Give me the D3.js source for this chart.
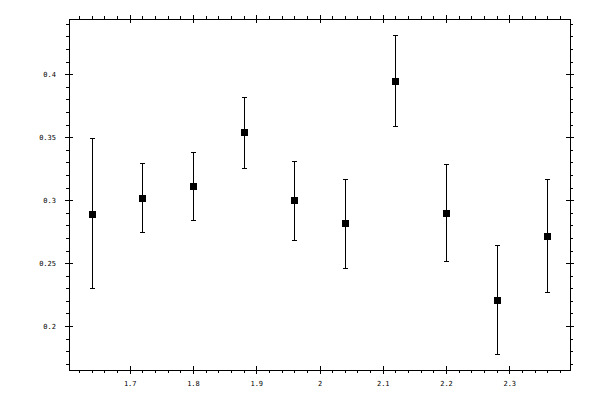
<!DOCTYPE html>
<html>
<head>
<meta charset="utf-8">
<script src="https://cdn.jsdelivr.net/npm/d3@7"></script>
<style>
  html, body { margin: 0; padding: 0; background: #fff; }
  svg { display: block; }
  text { font-family: "DejaVu Sans Mono", monospace; font-size: 7px; fill: #000; -webkit-font-smoothing: none; }
</style>
</head>
<body>
<svg id="chart" width="600" height="400"></svg>
<script>
// ---- data ----
const xValues = [1.64, 1.72, 1.80, 1.88, 1.96, 2.04, 2.12, 2.20, 2.28, 2.36];
const yValues = [0.2894, 0.3021, 0.3112, 0.3539, 0.2998, 0.2816, 0.3946, 0.2902, 0.2209, 0.2719];
const yHigh   = [0.3494, 0.3297, 0.3380, 0.3823, 0.3315, 0.3170, 0.4312, 0.3284, 0.2641, 0.3165];
const yLow    = [0.2304, 0.2750, 0.2846, 0.3253, 0.2681, 0.2464, 0.3587, 0.2520, 0.1778, 0.2267];
const xMajorTicks = [1.7, 1.8, 1.9, 2.0, 2.1, 2.2, 2.3];
const yMajorTicks = [0.2, 0.25, 0.3, 0.35, 0.4];

const points = xValues.map((x, i) => ({ x, y: yValues[i], hi: yHigh[i], lo: yLow[i] }));

const svg = d3.select("#chart");
const pLeft = 69, pRight = 570, pTop = 19, pBottom = 370;

// 5% padding domains
const xe = d3.extent(xValues), xp = (xe[1] - xe[0]) * 0.05;
const ye = [d3.min(yLow), d3.max(yHigh)], yp = (ye[1] - ye[0]) * 0.05;
const xScale = d3.scaleLinear().domain([xe[0] - xp, xe[1] + xp]).range([pLeft, pRight]);
const yScale = d3.scaleLinear().domain([ye[0] - yp, ye[1] + yp]).range([pBottom, pTop]);

const fmt = d => String(+d.toFixed(3));
const xMinor = d3.range(1.62, 2.40, 0.02).map(v => +v.toFixed(2)).filter(v => v >= xScale.domain()[0] && v <= xScale.domain()[1] && !xMajorTicks.some(m => Math.abs(m - v) < 1e-9));
const yMinor = d3.range(0.17, 0.45, 0.01).map(v => +v.toFixed(2)).filter(v => v >= yScale.domain()[0] && v <= yScale.domain()[1] && !yMajorTicks.some(m => Math.abs(m - v) < 1e-9));

function addAxis(gen, tx, ty) {
  const g = svg.append("g").attr("transform", `translate(${tx},${ty})`).call(gen);
  g.select(".domain").remove();
  g.selectAll("line").attr("stroke", "#000").attr("shape-rendering", "crispEdges");
  return g;
}

// minor ticks (outward)
addAxis(d3.axisBottom(xScale).tickValues(xMinor).tickSize(3).tickFormat(""), 0, pBottom);
addAxis(d3.axisTop(xScale).tickValues(xMinor).tickSize(3).tickFormat(""), 0, pTop);
addAxis(d3.axisLeft(yScale).tickValues(yMinor).tickSize(3).tickFormat(""), pLeft, 0);
addAxis(d3.axisRight(yScale).tickValues(yMinor).tickSize(3).tickFormat(""), pRight, 0);

// major ticks outward (with labels on bottom/left)
addAxis(d3.axisBottom(xScale).tickValues(xMajorTicks).tickSize(4).tickPadding(7).tickFormat(fmt), 0, pBottom);
addAxis(d3.axisLeft(yScale).tickValues(yMajorTicks).tickSize(4).tickPadding(9).tickFormat(fmt), pLeft, 0);
addAxis(d3.axisTop(xScale).tickValues(xMajorTicks).tickSize(4).tickFormat(""), 0, pTop);
addAxis(d3.axisRight(yScale).tickValues(yMajorTicks).tickSize(4).tickFormat(""), pRight, 0);
// major ticks inward
addAxis(d3.axisBottom(xScale).tickValues(xMajorTicks).tickSize(-4).tickFormat(""), 0, pBottom);
addAxis(d3.axisLeft(yScale).tickValues(yMajorTicks).tickSize(-4).tickFormat(""), pLeft, 0);
addAxis(d3.axisTop(xScale).tickValues(xMajorTicks).tickSize(-4).tickFormat(""), 0, pTop);
addAxis(d3.axisRight(yScale).tickValues(yMajorTicks).tickSize(-4).tickFormat(""), pRight, 0);

svg.selectAll("text").attr("font-family", "DejaVu Sans Mono, monospace").attr("font-size", "7px").attr("fill", "#000");

// frame
svg.append("rect")
  .attr("x", pLeft + 0.5).attr("y", pTop + 0.5)
  .attr("width", pRight - pLeft).attr("height", pBottom - pTop)
  .attr("fill", "none").attr("stroke", "#000").attr("stroke-width", 1)
  .attr("shape-rendering", "crispEdges");

// error bars
const eb = svg.append("g").attr("stroke", "#000").attr("stroke-width", 1).attr("shape-rendering", "crispEdges");
eb.append("g").selectAll("line").data(points).join("line")
  .attr("x1", d => Math.round(xScale(d.x)) + 0.5).attr("x2", d => Math.round(xScale(d.x)) + 0.5)
  .attr("y1", d => Math.round(yScale(d.hi)) + 0.5).attr("y2", d => Math.round(yScale(d.lo)) + 0.5);
eb.append("g").selectAll("line").data(points).join("line")
  .attr("x1", d => Math.round(xScale(d.x)) - 2).attr("x2", d => Math.round(xScale(d.x)) + 3)
  .attr("y1", d => Math.round(yScale(d.hi)) + 0.5).attr("y2", d => Math.round(yScale(d.hi)) + 0.5);
eb.append("g").selectAll("line").data(points).join("line")
  .attr("x1", d => Math.round(xScale(d.x)) - 2).attr("x2", d => Math.round(xScale(d.x)) + 3)
  .attr("y1", d => Math.round(yScale(d.lo)) + 0.5).attr("y2", d => Math.round(yScale(d.lo)) + 0.5);

// markers
svg.append("g").selectAll("rect").data(points).join("rect")
  .attr("x", d => Math.round(xScale(d.x)) - 3).attr("y", d => Math.round(yScale(d.y)) - 3)
  .attr("width", 7).attr("height", 7).attr("fill", "#000")
  .attr("shape-rendering", "crispEdges");
</script>
</body>
</html>
